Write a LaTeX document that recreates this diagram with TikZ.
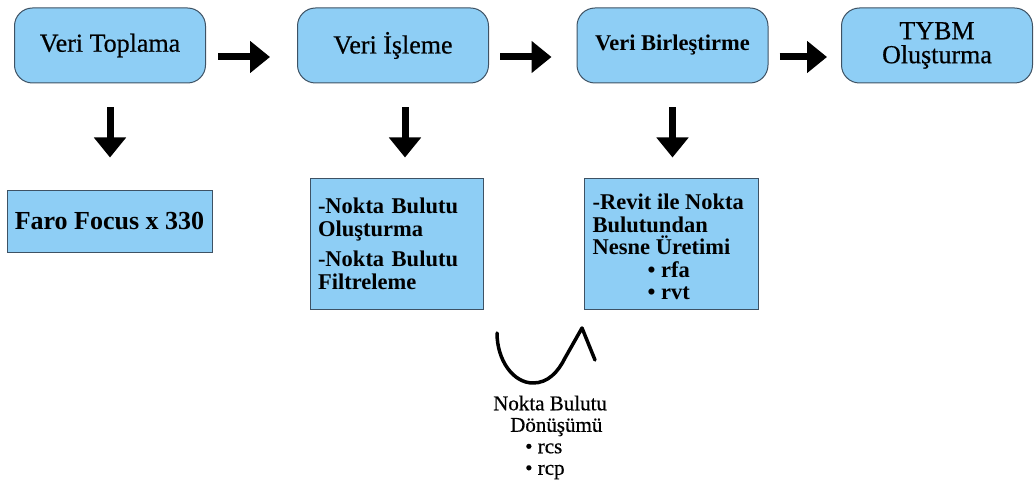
\documentclass[tikz,border=0pt]{standalone}
\usepackage{fontspec}
\setmainfont{Liberation Serif}
\newfontfamily\heavyserif[FakeBold=0.5]{Liberation Serif}
\usetikzlibrary{arrows.meta}
\definecolor{boxfill}{RGB}{142,206,245}
\definecolor{boxline}{RGB}{62,82,100}
\begin{document}
\begin{tikzpicture}[x=1pt,y=-1pt,
  topbox/.style={draw=boxline, fill=boxfill, line width=1pt, rounded corners=18pt,
    minimum width=191pt, minimum height=75pt, inner sep=0pt, align=center},
  subbox/.style={draw=boxline, fill=boxfill, line width=1pt, inner sep=0pt},
  bigarrow/.style={line width=7pt, -{Triangle[width=31pt,length=20pt]}},
  curvearrow/.style={line width=3.5pt, line cap=round, line join=round},
  topfont/.style={font=\heavyserif\fontsize{26}{24}\selectfont},
  boldfont/.style={font=\fontsize{22.5}{22.5}\selectfont\bfseries}
]
\useasboundingbox (0,0) rectangle (1035,486);
% top row
\node[topbox, topfont] (b1) at (110,45.5) {Veri Toplama};
\node[topbox, topfont] (b2) at (393,45.5) {Veri İşleme};
\node[topbox, boldfont] (b3) at (672.5,45.5) {Veri Birleştirme};
\node[topbox, topfont] (b4) at (937,45.5) {TYBM\\Oluşturma};
% horizontal arrows
\draw[bigarrow] ([xshift=12pt,yshift=-11.5pt]b1.east) -- ([xshift=-27pt,yshift=-11.5pt]b2.west);
\draw[bigarrow] ([xshift=11pt,yshift=-11.5pt]b2.east) -- ([xshift=-25pt,yshift=-11.5pt]b3.west);
\draw[bigarrow] ([xshift=11pt,yshift=-11.5pt]b3.east) -- ([xshift=-14pt,yshift=-11.5pt]b4.west);
% lower boxes
\node[subbox, minimum width=205pt, minimum height=61pt, font=\fontsize{26}{26}\selectfont\bfseries] (s1) at (109.5,221.5) {Faro Focus x 330};
\node[subbox, minimum width=173pt, minimum height=130pt, text width=157pt, align=left, boldfont] (s2) at (396.5,244)
  {-Nokta Bulutu\\Oluşturma\\[8pt]-Nokta Bulutu\\Filtreleme};
\node[subbox, minimum width=174pt, minimum height=130pt] (s3) at (671,244) {};
\node[anchor=north west, inner sep=0pt, align=left, boldfont] (s3t) at ([xshift=9pt,yshift=-15.5pt]s3.north west)
  {-Revit ile Nokta\\Bulutundan\\Nesne Üretimi\\\hspace*{55pt}• rfa\\\hspace*{55pt}• rvt};
% vertical arrows
\draw[bigarrow] ([yshift=-24pt]b1.south) -- ([yshift=-74pt]b1.south);
\draw[bigarrow] ([xshift=12pt,yshift=-24pt]b2.south) -- ([xshift=12pt,yshift=-74pt]b2.south);
\draw[bigarrow] ([yshift=-24pt]b3.south) -- ([yshift=-74pt]b3.south);
% curved arrow
\coordinate (ca) at (497,333);
\coordinate (cm) at (533,383);
\coordinate (cb) at (565,358);
\coordinate (ct) at (582,328);
\coordinate (cc) at (595,360);
\draw[curvearrow] (ca) .. controls (497,360) and (513,383) .. (cm)
  .. controls (548,383) and (558,372) .. (cb) -- (ct) -- (cc);
% bottom label
\node[anchor=north west, inner sep=0pt, align=left, font=\heavyserif\fontsize{21}{21.5}\selectfont] (lbl) at (493,395.5)
  {Nokta Bulutu\\\hspace*{17pt}Dönüşümü\\\hspace*{32pt}• rcs\\\hspace*{32pt}• rcp};
\end{tikzpicture}
\end{document}
